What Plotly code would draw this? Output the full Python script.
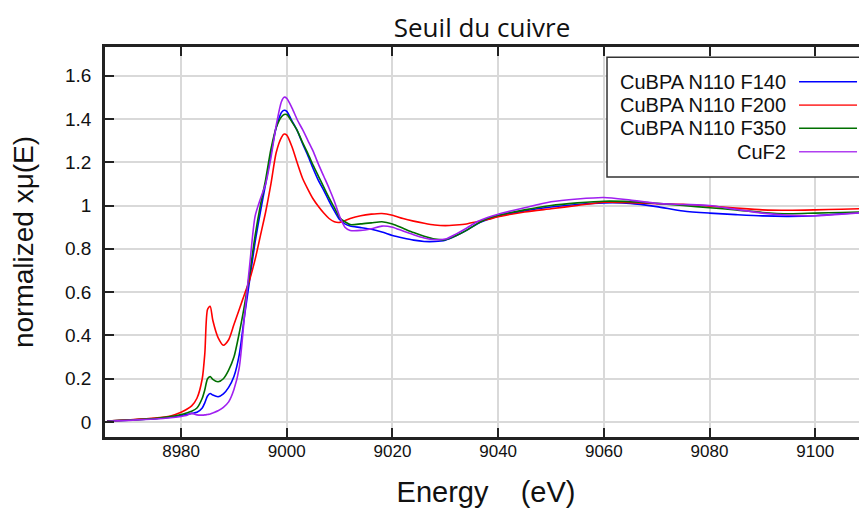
import plotly.graph_objects as go

energy = [8966, 8970, 8975, 8978, 8980, 8981, 8982, 8983, 8984, 8984.5, 8985, 8985.5,
          8986, 8987, 8988, 8989, 8990, 8991, 8992, 8993, 8994, 8995, 8996, 8997, 8998,
          8999, 8999.5, 9000, 9001, 9002, 9003, 9004, 9005, 9006, 9007, 9008, 9009, 9010,
          9011, 9012, 9014, 9016, 9018, 9020, 9022, 9024, 9026, 9028, 9030, 9032, 9034,
          9036, 9038, 9040, 9045, 9050, 9055, 9060, 9065, 9070, 9075, 9080, 9085, 9090,
          9095, 9100, 9105, 9110]

f140 = [0.005, 0.009, 0.015, 0.022, 0.030, 0.035, 0.040, 0.045, 0.065, 0.090, 0.120, 0.132,
        0.125, 0.117, 0.130, 0.160, 0.210, 0.310, 0.490, 0.660, 0.830, 0.970, 1.100, 1.240, 1.360,
        1.430, 1.440, 1.435, 1.390, 1.345, 1.285, 1.230, 1.170, 1.115, 1.070, 1.020, 0.975, 0.935,
        0.915, 0.905, 0.898, 0.890, 0.878, 0.862, 0.850, 0.840, 0.834, 0.834, 0.840, 0.860, 0.885,
        0.915, 0.935, 0.950, 0.975, 0.993, 1.005, 1.012, 1.010, 0.995, 0.975, 0.965, 0.958, 0.952,
        0.950, 0.953, 0.962, 0.969]

f200 = [0.005, 0.010, 0.018, 0.028, 0.045, 0.058, 0.075, 0.110, 0.200, 0.320, 0.520, 0.535,
        0.470, 0.390, 0.355, 0.380, 0.450, 0.520, 0.590, 0.660, 0.750, 0.860, 0.970, 1.100, 1.245,
        1.315, 1.330, 1.325, 1.270, 1.195, 1.125, 1.075, 1.030, 0.995, 0.965, 0.940, 0.925, 0.922,
        0.930, 0.940, 0.953, 0.960, 0.963, 0.955, 0.940, 0.928, 0.918, 0.910, 0.907, 0.910, 0.915,
        0.925, 0.935, 0.948, 0.970, 0.985, 1.000, 1.015, 1.013, 1.008, 1.006, 0.997, 0.988, 0.980,
        0.978, 0.980, 0.983, 0.986]

f350 = [0.005, 0.009, 0.016, 0.025, 0.035, 0.042, 0.050, 0.065, 0.110, 0.150, 0.200, 0.210,
        0.197, 0.186, 0.200, 0.240, 0.300, 0.410, 0.540, 0.690, 0.860, 1.000, 1.120, 1.260, 1.360,
        1.410, 1.420, 1.420, 1.385, 1.345, 1.290, 1.240, 1.185, 1.135, 1.085, 1.035, 0.990, 0.945,
        0.925, 0.912, 0.915, 0.920, 0.925, 0.915, 0.895, 0.875, 0.858, 0.845, 0.842, 0.860, 0.885,
        0.915, 0.940, 0.955, 0.980, 1.000, 1.012, 1.020, 1.018, 1.010, 1.000, 0.990, 0.980, 0.968,
        0.962, 0.965, 0.968, 0.970]

cuf2 = [0.004, 0.008, 0.014, 0.020, 0.026, 0.030, 0.040, 0.033, 0.032, 0.033, 0.035, 0.037,
        0.042, 0.052, 0.068, 0.093, 0.150, 0.250, 0.490, 0.730, 0.950, 1.030, 1.100, 1.220, 1.370,
        1.480, 1.500, 1.495, 1.450, 1.395, 1.350, 1.300, 1.250, 1.190, 1.135, 1.080, 1.020, 0.950,
        0.900, 0.885, 0.885, 0.893, 0.905, 0.900, 0.882, 0.865, 0.850, 0.842, 0.845, 0.868, 0.895,
        0.925, 0.945, 0.960, 0.990, 1.017, 1.030, 1.037, 1.025, 1.010, 1.005, 1.000, 0.982, 0.965,
        0.955, 0.953, 0.960, 0.969]

series_names = ["CuBPA N110 F140", "CuBPA N110 F200", "CuBPA N110 F350", "CuF2"]
series_values = [f140, f200, f350, cuf2]
series_colors = ["#0000ff", "#ff0000", "#007000", "#a020f0"]
legend_colors = ["#0000ff", "#ff4040", "#007000", "#b040f0"]

x_ticks = [8980, 9000, 9020, 9040, 9060, 9080, 9100]
y_ticks = [0, 0.2, 0.4, 0.6, 0.8, 1, 1.2, 1.4, 1.6]
y_tick_text = ["0", "0.2", "0.4", "0.6", "0.8", "1", "1.2", "1.4", "1.6"]

fig = go.Figure()
for name, vals, col in zip(series_names, series_values, series_colors):
    fig.add_trace(go.Scatter(x=energy, y=vals, mode="lines", name=name,
                             line=dict(color=col, width=1.6, shape="spline", smoothing=0.7),
                             showlegend=False))

sans = "Liberation Sans, Arial, sans-serif"

# the page body has an 8px margin, so the figure is 8px smaller than the window
fig.update_layout(
    width=859, height=500,
    margin=dict(l=97, r=0, t=39, b=71),
    paper_bgcolor="white", plot_bgcolor="white",
    title=dict(text="Seuil du cuivre", x=(482 - 8) / 859, xref="container", xanchor="center",
               y=1 - (28 - 8) / 500, yref="container", yanchor="middle",
               font=dict(family="Open Sans, Lato, sans-serif", size=26, color="#111")),
    xaxis=dict(range=[8965.6, 9109.8], tickvals=x_ticks, ticks="inside", ticklen=9,
               tickwidth=1.5, tickcolor="#222", showline=True, linewidth=2.5, linecolor="#222",
               mirror="ticks", showgrid=True, gridcolor="#d9d9d9", gridwidth=1.5,
               zeroline=False, tickfont=dict(family=sans, size=17, color="#111"),
               ticklabelstandoff=-3,
               title=dict(text="Energy\u00a0\u00a0\u00a0\u00a0(eV)", standoff=26,
                          font=dict(family=sans, size=29, color="#111"))),
    yaxis=dict(range=[-0.069, 1.732], tickvals=y_ticks, ticktext=y_tick_text, ticks="inside",
               ticklen=9, tickwidth=1.5, tickcolor="#222", showline=True, linewidth=2.5,
               linecolor="#222", mirror=False, showgrid=True, gridcolor="#d9d9d9", gridwidth=1.5,
               zeroline=False, tickfont=dict(family=sans, size=19, color="#111"),
               ticklabelstandoff=7,
               title=dict(text="normalized x\u03bc(E)", standoff=27,
                          font=dict(family=sans, size=28, color="#111"))),
)

# custom legend box (text right, line sample on the right, as in the reference)
fig.add_shape(type="rect", xref="paper", yref="paper", x0=0.6588, x1=1.02, y0=0.6667, y1=0.974,
              line=dict(color="#333", width=1.5), fillcolor="white", layer="above")
leg_y = [0.911, 0.851, 0.7915, 0.7315]
for name, col, yy in zip(series_names, legend_colors, leg_y):
    fig.add_annotation(xref="paper", yref="paper", x=0.8963, y=yy, text=name, showarrow=False,
                       xanchor="right", yanchor="middle",
                       font=dict(family=sans, size=20, color="#111"))
    fig.add_shape(type="line", xref="paper", yref="paper", x0=0.9108, x1=0.9869, y0=yy, y1=yy,
                  line=dict(color=col, width=1.6), layer="above")

fig.write_html("out.html")
